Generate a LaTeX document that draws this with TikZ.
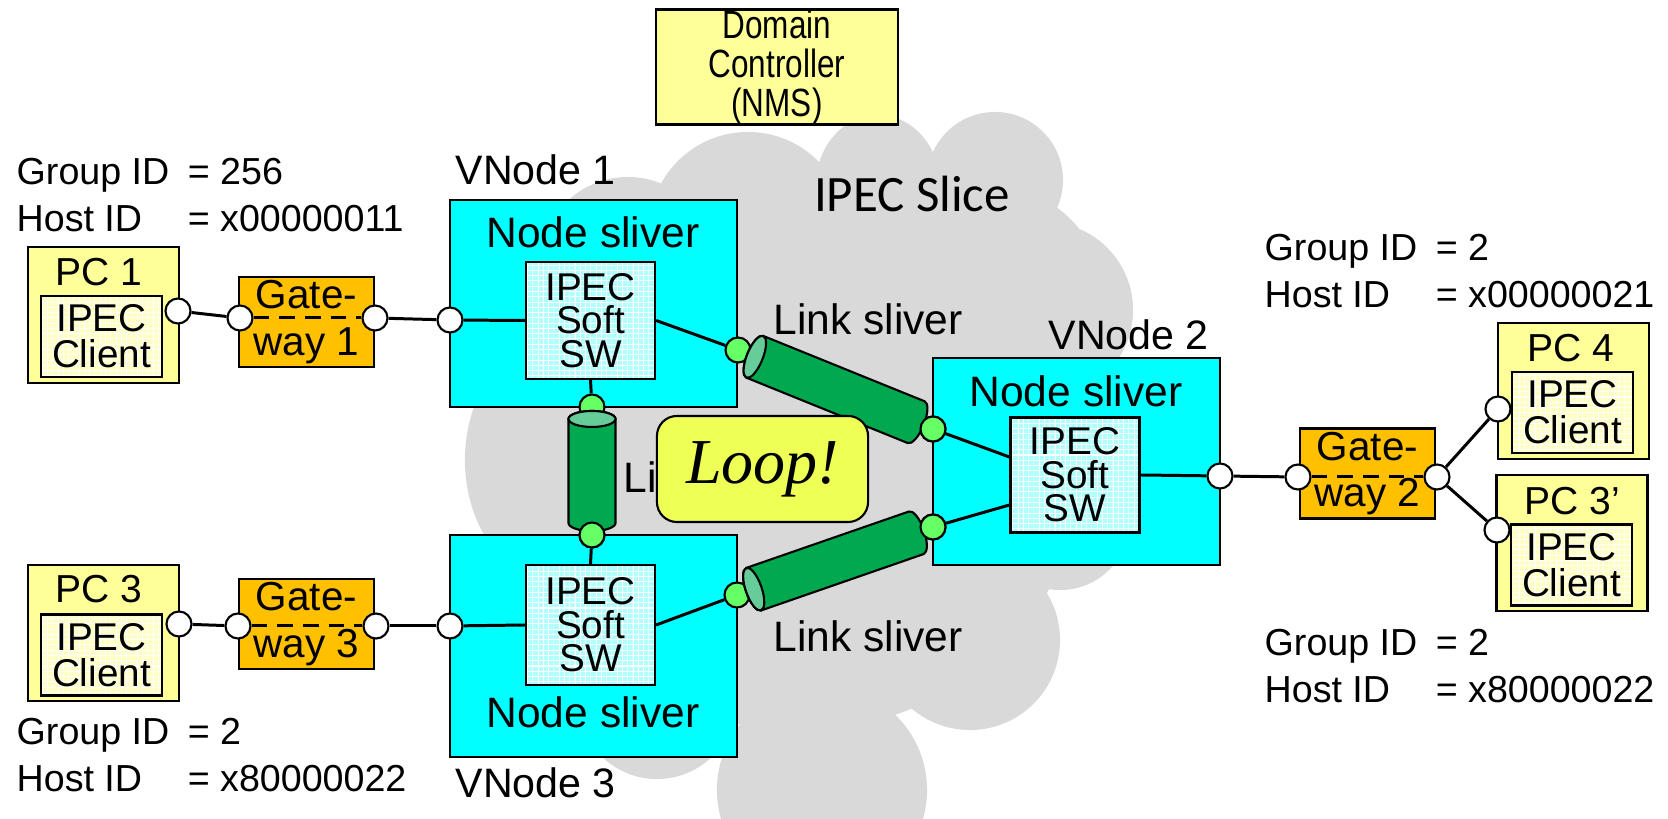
\documentclass[tikz,border=0pt]{standalone}
\usepackage{fontspec}
\setmainfont{Liberation Sans}
\newfontfamily\slicefont{Carlito}
\newfontfamily\dcfont[FakeStretch=0.8]{Liberation Sans}
\newfontfamily\loopfont{Liberation Serif}
\usepackage{tikz}
\usetikzlibrary{positioning,calc,patterns}

\definecolor{slivercyan}{HTML}{00FFFF}
\definecolor{swcyan}{HTML}{B0FFFF}
\definecolor{pcyellow}{HTML}{FFFF99}
\definecolor{clientyellow}{HTML}{FFFFC4}
\definecolor{gworange}{HTML}{FFC000}
\definecolor{loopyellow}{HTML}{EEFF55}
\definecolor{linkgreen}{HTML}{00A84F}
\definecolor{linkcap}{HTML}{66CC99}
\definecolor{portgreen}{HTML}{66FF66}
\definecolor{cloudgray}{HTML}{D9D9D9}

% fine white mesh for the software boxes
\pgfdeclarepatternformonly{mesh}{\pgfqpoint{-0.1pt}{-0.1pt}}{\pgfqpoint{1.6pt}{1.6pt}}{\pgfqpoint{1.5pt}{1.5pt}}{%
  \pgfsetlinewidth{0.3pt}%
  \pgfpathmoveto{\pgfqpoint{0pt}{0pt}}\pgfpathlineto{\pgfqpoint{1.5pt}{0pt}}%
  \pgfpathmoveto{\pgfqpoint{0pt}{0pt}}\pgfpathlineto{\pgfqpoint{0pt}{1.5pt}}%
  \pgfusepath{stroke}}

% one line of a group/host id block
\newcommand{\idline}[2]{\makebox[1.71cm][l]{#1}= #2}

% link sliver pipe: centre, angle, half length, radius (open end on the left)
\newcommand{\linkpipe}[4]{%
  \begin{scope}[shift={(#1)}, rotate=#2, line width=0.6pt]
    \filldraw[fill=linkgreen] (-#3,#4) -- (#3,#4)
      arc[start angle=90, end angle=-90, x radius=0.08cm, y radius=#4]
      -- (-#3,-#4)
      arc[start angle=270, end angle=90, x radius=0.08cm, y radius=#4] -- cycle;
    \filldraw[fill=linkcap] (-#3,0) ellipse[x radius=0.08cm, y radius=#4];
  \end{scope}}

\begin{document}
\begin{tikzpicture}[
    x=0.01cm, y=-0.01cm,
    box/.style={draw=black, line width=0.6pt, inner sep=0pt},
    sliver/.style={box, fill=slivercyan, minimum width=2.87cm},
    softsw/.style={
        box,
        preaction={fill=swcyan},
        pattern=mesh,
        pattern color=white,
        minimum width=1.29cm,
        minimum height=1.17cm,
        align=center,
        font=\fontsize{11}{9.5}\selectfont
    },
    pcbox/.style={box, fill=pcyellow, minimum width=1.51cm, minimum height=1.36cm},
    client/.style={
        box,
        preaction={fill=clientyellow},
        pattern=mesh,
        pattern color=white,
        minimum width=1.21cm,
        minimum height=0.81cm,
        align=center,
        font=\fontsize{11}{10.2}\selectfont
    },
    gate/.style={
        box,
        fill=gworange,
        minimum width=1.35cm,
        minimum height=0.9cm,
        align=center,
        font=\fontsize{11.5}{13.2}\selectfont
    },
    port/.style={circle, draw=black, line width=0.6pt, fill=white,
        minimum size=0.25cm, inner sep=0pt},
    gport/.style={port, fill=portgreen},
    wire/.style={line width=0.85pt},
    gwire/.style={wire, dash pattern=on 4.5pt off 2.8pt},
    tag/.style={inner sep=0pt, anchor=west, font=\fontsize{11.7}{14}\selectfont},
    slv/.style={inner sep=0pt, font=\fontsize{12.1}{14}\selectfont},
    pctag/.style={inner sep=0pt, font=\fontsize{11.1}{13}\selectfont},
    ids/.style={inner sep=0pt, anchor=north west, align=left,
        font=\fontsize{10.7}{13.1}\selectfont}
]
\useasboundingbox (0,0) rectangle (1668,819);

% the slice cloud
\fill[cloudgray]
    (570,460) ellipse[x radius=1.05cm, y radius=1.3cm]
    (628,265) circle[radius=0.88cm]
    (748,231) circle[radius=0.99cm]
    (878,185) ellipse[x radius=0.62cm, y radius=0.7cm]
    (995,180) circle[radius=0.68cm]
    (1000,290) circle[radius=1cm]
    (1045,310) circle[radius=0.88cm]
    (800,470) ellipse[x radius=2.8cm, y radius=2.6cm]
    (1060,520) circle[radius=0.7cm]
    (970,640) circle[radius=0.9cm]
    (657,700) circle[radius=0.79cm]
    (822,790) circle[radius=1.05cm];

\node[inner sep=0pt, font=\slicefont\fontsize{14.5}{16}\selectfont] (slice) at (912,194) {IPEC Slice};

% labels on the cloud
\node[tag] (vn1t) at (455,170) {VNode 1};
\node[tag] (vn2t) at (1048,335) {VNode 2};
\node[tag] (vn3t) at (455,783) {VNode 3};
\node[tag, font=\fontsize{12.1}{14}\selectfont] (lsup) at (773,319) {Link sliver};
\node[tag, font=\fontsize{12.1}{14}\selectfont] (lsmid) at (623,477) {Link sliver};
\node[tag, font=\fontsize{12.1}{14}\selectfont] (lslo) at (773,636) {Link sliver};

% domain controller
\node[box, fill=pcyellow, minimum width=2.42cm, minimum height=1.15cm, align=center,
      font=\dcfont\fontsize{11.2}{11.1}\selectfont] (dc) at (777,67) {Domain\\Controller\\(NMS)};

% virtual nodes
\node[sliver, minimum height=2.07cm] (vn1) at (593.5,303.5) {};
\node[sliver, minimum height=2.07cm] (vn2) at (1076.5,461.5) {};
\node[sliver, minimum height=2.22cm] (vn3) at (593.5,646) {};
\node[slv] (ns1) at (593,232) {Node sliver};
\node[slv] (ns2) at (1076,391) {Node sliver};
\node[slv] (ns3) at (593,712) {Node sliver};

\node[softsw] (sw1) at (590.5,320.5) {IPEC\\Soft\\SW};
\node[softsw, minimum height=1.15cm] (sw2) at (1075,475) {IPEC\\Soft\\SW};
\node[softsw, minimum height=1.2cm] (sw3) at (590.5,625) {IPEC\\Soft\\SW};

% hosts
\node[pcbox] (pc1) at (103.5,315) {};
\node[client] (cl1) at (101.5,336.5) {IPEC\\Client};
\node[pctag] (pc1t) at (98.5,272) {PC 1};

\node[pcbox] (pc3) at (103.5,633) {};
\node[client] (cl3) at (101.5,655) {IPEC\\Client};
\node[pctag] (pc3t) at (98.5,589) {PC 3};

\node[pcbox] (pc4) at (1573.5,391) {};
\node[client] (cl4) at (1572.5,412.5) {IPEC\\Client};
\node[pctag] (pc4t) at (1571,348) {PC 4};

\node[pcbox] (pc3b) at (1572,543) {};
\node[client] (cl3b) at (1571.5,565) {IPEC\\Client};
\node[pctag] (pc3bt) at (1572,501) {PC 3’};

% gateways
\node[gate] (gw1) at (306.5,322) {Gate-\\way 1};
\node[gate] (gw3) at (306.5,624) {Gate-\\way 3};
\node[gate] (gw2) at (1367.5,473.5) {Gate-\\way 2};

% id blocks
\node[ids] (id1) at (16,158) {\idline{Group ID}{256}\\\idline{Host ID}{x00000011}};
\node[ids] (id3) at (16,718) {\idline{Group ID}{2}\\\idline{Host ID}{x80000022}};
\node[ids] (id4) at (1264,234) {\idline{Group ID}{2}\\\idline{Host ID}{x00000021}};
\node[ids] (id3b) at (1264,629) {\idline{Group ID}{2}\\\idline{Host ID}{x80000022}};

% ports
\node[port] (pc1p) at (178,311) {};
\node[port] (g1l) at (240,318) {};
\node[port] (g1r) at (375,318) {};
\node[port] (v1p) at (450,320) {};
\node[port] (pc3p) at (179,624) {};
\node[port] (g3l) at (238,626) {};
\node[port] (g3r) at (376,626) {};
\node[port] (v3p) at (450,626) {};
\node[port] (v2p) at (1220,476) {};
\node[port] (g2l) at (1298,477) {};
\node[port] (g2r) at (1437,477) {};
\node[port] (pc4p) at (1498,409) {};
\node[port] (pc3bp) at (1497,530) {};

% wires
\draw[wire] (pc1p) -- (g1l);
\draw[gwire] (g1l) -- (g1r);
\draw[wire] (g1r) -- (v1p);
\draw[wire] (v1p) -- (sw1.west);
\draw[wire] (pc3p) -- (g3l);
\draw[gwire] (g3l) -- (g3r);
\draw[wire] (g3r) -- (v3p);
\draw[wire] (v3p) -- (sw3.west);
\draw[wire] (sw2.east) -- (v2p);
\draw[wire] (v2p) -- (g2l);
\draw[gwire] (g2l) -- (g2r);
\draw[wire] (g2r) -- (pc4p);
\draw[wire] (g2r) -- (pc3bp);

% link slivers
\node[gport] (gp1r) at (738,350) {};
\node[gport] (gp3r) at (737,595) {};
\node[gport] (gp1b) at (592,407) {};
\node[gport] (gp2a) at (933,429) {};
\node[gport] (gp2b) at (933,527) {};
\node[gport] (gp3t) at (592,535) {};
\draw[wire] (sw1.east) -- (gp1r);
\draw[wire] (sw1.south) -- (gp1b);
\draw[wire] (sw3.east) -- (gp3r);
\draw[wire] (sw3.north) -- (gp3t);
\draw[wire] (gp2a) -- ($(sw2.west)+(0,-18)$);
\draw[wire] (gp2b) -- ($(sw2.west)+(0,30)$);

\coordinate (lk12) at ($(gp1r)!0.5!(gp2a)$);
\coordinate (lk32) at ($(gp3r)!0.5!(gp2b)$);
\coordinate (lk13) at ($(gp1b)!0.5!(gp3t)$);
\linkpipe{lk12}{-22.05}{0.87cm}{0.225cm}
\linkpipe{lk32}{19.13}{0.86cm}{0.225cm}
\linkpipe{lk13}{-90}{0.52cm}{0.235cm}
\node[gport] at (gp2a) {};
\node[gport] at (gp2b) {};
\node[gport] at (gp3t) {};

\node[box, fill=loopyellow, rounded corners=0.2cm, minimum width=2.11cm, minimum height=1.06cm,
      font=\loopfont\itshape\fontsize{18.2}{20}\selectfont] (loop) at (762.5,469) {Loop!};
\end{tikzpicture}
\end{document}
